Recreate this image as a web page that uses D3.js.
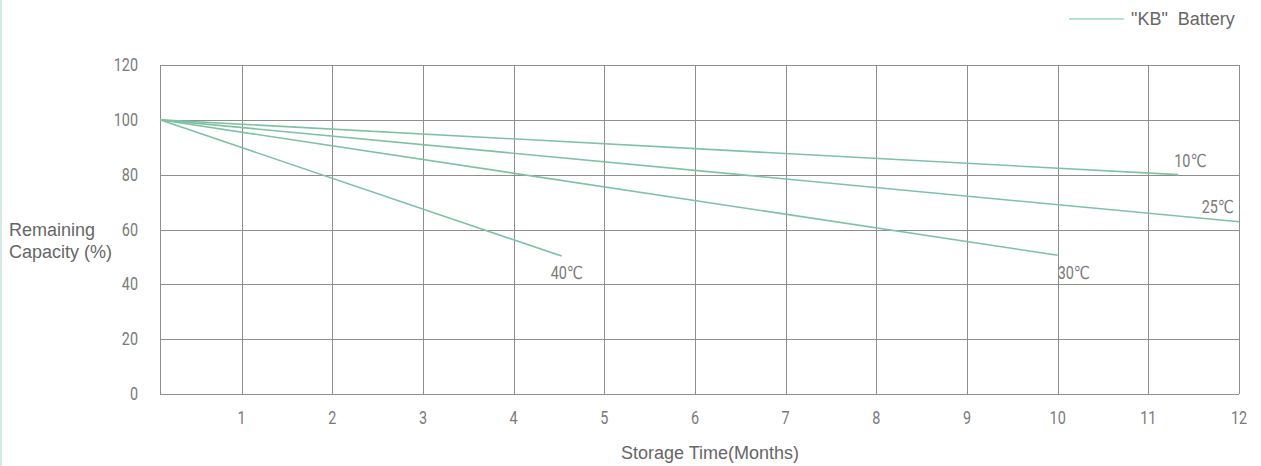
<!DOCTYPE html>
<html>
<head>
<meta charset="utf-8">
<script src="https://cdn.jsdelivr.net/npm/d3@7"></script>
<style>
  html, body { margin: 0; padding: 0; background: #fff; }
  #chart { width: 1261px; height: 466px; }
</style>
</head>
<body>
<div id="chart"></div>
<script>
// data -----------------------------------------------------------------
const months = [1, 2, 3, 4, 5, 6, 7, 8, 9, 10, 11, 12];
const capacityTicks = [0, 20, 40, 60, 80, 100, 120];
const seriesNames = ['10℃', '25℃', '30℃', '40℃'];
// [month, remaining capacity %] start / end of each straight line
const line10 = [[0.1, 100], [11.33, 80]];
const line25 = [[0.1, 100], [12, 62.8]];
const line30 = [[0.1, 100], [10, 50.6]];
const line40 = [[0.1, 100], [4.53, 50.3]];
const legendLabel = '"KB"  Battery';

// layout --------------------------------------------------------------
const width = 1261;
const height = 466;
const margin = { top: 65, right: 22, bottom: 72, left: 160 };
const green = '#7fc2a3';
const gridColor = '#8e8e8e';

const svg = d3.select('#chart').append('svg')
  .attr('width', width)
  .attr('height', height);

// left teal edge
svg.append('rect')
  .attr('x', 0).attr('y', 0)
  .attr('width', 2).attr('height', height)
  .attr('fill', '#d4ebe4');

const xScale = d3.scaleLinear()
  .domain([0.1, 12])
  .range([margin.left, width - margin.right]);
const yScale = d3.scaleLinear()
  .domain([0, 120])
  .range([height - margin.bottom, margin.top]);

// grid ----------------------------------------------------------------
const grid = svg.append('g').attr('stroke', gridColor).attr('stroke-width', 1).attr('shape-rendering', 'crispEdges');
grid.selectAll('.hgrid')
  .data(capacityTicks)
  .enter()
  .append('line')
  .attr('x1', xScale(0.1)).attr('x2', xScale(12))
  .attr('y1', d => Math.round(yScale(d)) + 0.5)
  .attr('y2', d => Math.round(yScale(d)) + 0.5);
grid.selectAll('.vgrid')
  .data([0.1].concat(months))
  .enter()
  .append('line')
  .attr('x1', d => Math.round(xScale(d)) + 0.5)
  .attr('x2', d => Math.round(xScale(d)) + 0.5)
  .attr('y1', yScale(0)).attr('y2', yScale(120));

// condensed look: Roboto squeezed horizontally
const tickFont = 'Roboto, "DejaVu Sans", sans-serif';
const tickColor = '#7a7a7a';
const squeeze = 0.8;
const condensedText = (sel, xFn, yFn) => sel
  .attr('transform', (d, i) => 'translate(' + xFn(d, i) + ',' + yFn(d, i) + ') scale(' + squeeze + ',1)')
  .attr('font-family', tickFont)
  .attr('font-size', '18px')
  .attr('fill', tickColor);

// axes labels ---------------------------------------------------------
svg.append('g')
  .selectAll('text')
  .data(capacityTicks)
  .enter()
  .append('text')
  .attr('text-anchor', 'end')
  .call(condensedText, () => 138, d => yScale(d) + 6)
  .text(d => d);

svg.append('g')
  .selectAll('text')
  .data(months)
  .enter()
  .append('text')
  .attr('text-anchor', 'middle')
  .call(condensedText, d => xScale(d), () => 424)
  .text(d => d);

const titleFont = '"Liberation Sans", Arial, sans-serif';
const yTitle = svg.append('text')
  .attr('font-family', titleFont)
  .attr('font-size', '18px')
  .attr('fill', '#666');
yTitle.append('tspan').attr('x', 9).attr('y', 236).text('Remaining');
yTitle.append('tspan').attr('x', 9).attr('y', 258).text('Capacity (%)');

svg.append('text')
  .attr('x', 710)
  .attr('y', 459)
  .attr('text-anchor', 'middle')
  .attr('font-family', titleFont)
  .attr('font-size', '18px')
  .attr('fill', '#666')
  .text('Storage Time(Months)');

// lines ---------------------------------------------------------------
const lineGen = d3.line()
  .x(d => xScale(d[0]))
  .y(d => yScale(d[1]));
const allLines = [line10, line25, line30, line40];
svg.append('g')
  .selectAll('path')
  .data(allLines)
  .enter()
  .append('path')
  .attr('d', lineGen)
  .attr('fill', 'none')
  .attr('stroke', green)
  .attr('stroke-width', 1.6);

// series labels: offset from the end point of each line
const labelOffsets = [
  { dx: -4, dy: -8, anchor: 'start' },
  { dx: -5, dy: -9, anchor: 'end' },
  { dx: 0, dy: 24, anchor: 'start' },
  { dx: -11, dy: 23, anchor: 'start' }
];
svg.append('g')
  .selectAll('text')
  .data(allLines)
  .enter()
  .append('text')
  .attr('text-anchor', (d, i) => labelOffsets[i].anchor)
  .call(condensedText,
    (d, i) => xScale(d[d.length - 1][0]) + labelOffsets[i].dx,
    (d, i) => yScale(d[d.length - 1][1]) + labelOffsets[i].dy)
  .text((d, i) => seriesNames[i]);

// legend --------------------------------------------------------------
const legend = svg.append('g').attr('transform', 'translate(1069,19)');
legend.append('line')
  .attr('x1', 0).attr('x2', 55)
  .attr('y1', 0).attr('y2', 0)
  .attr('stroke', '#a3d6c3')
  .attr('stroke-width', 1.5);
legend.append('text')
  .attr('x', 62)
  .attr('y', 6)
  .attr('font-family', titleFont)
  .attr('font-size', '18px')
  .attr('fill', '#666')
  .attr('xml:space', 'preserve')
  .style('white-space', 'pre')
  .text(legendLabel);
</script>
</body>
</html>
